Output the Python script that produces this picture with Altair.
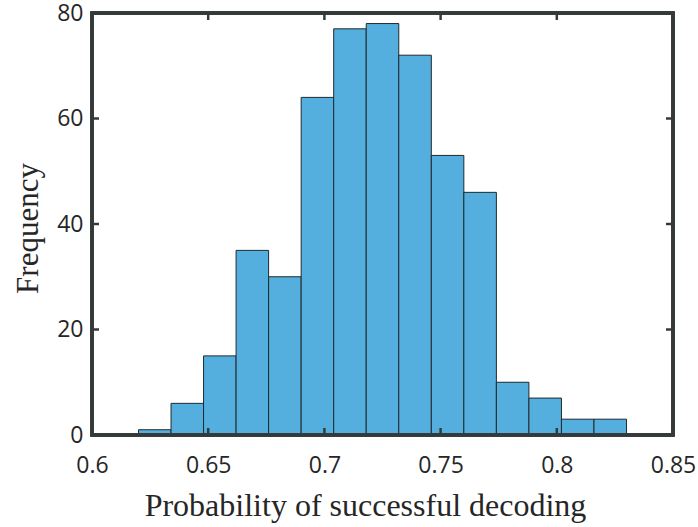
import altair as alt
import pandas as pd

# Histogram data
bin_lo = [0.620, 0.634, 0.648, 0.662, 0.676, 0.690, 0.704, 0.718, 0.732, 0.746, 0.760, 0.774, 0.788, 0.802, 0.816]
bin_hi = [0.634, 0.648, 0.662, 0.676, 0.690, 0.704, 0.718, 0.732, 0.746, 0.760, 0.774, 0.788, 0.802, 0.816, 0.830]
counts = [1, 6, 15, 35, 30, 64, 77, 78, 72, 53, 46, 10, 7, 3, 3]

x_ticks = [0.6, 0.65, 0.7, 0.75, 0.8, 0.85]
y_ticks = [0, 20, 40, 60, 80]

W, H = 581, 422
FRAME = "#343a3a"
TEXT = "#262626"
FILL = "#55AFDE"

bars_df = pd.DataFrame({"lo": bin_lo, "hi": bin_hi, "count": counts})
xt_df = pd.DataFrame({"x": x_ticks})
yt_df = pd.DataFrame({"y": y_ticks})

x_scale = alt.Scale(domain=[0.6, 0.85], nice=False, zero=False)
y_scale = alt.Scale(domain=[0, 80], nice=False)

bars = alt.Chart(bars_df).mark_rect(
    fill=FILL, stroke="#1f2a2e", strokeWidth=1
).encode(
    x=alt.X("lo:Q", scale=x_scale, axis=alt.Axis(
        values=x_ticks, format="~g", title="Probability of successful decoding",
        domain=False, ticks=False, grid=False, labelFlush=False, labelOverlap=False,
        labelFont="Open Sans", labelFontSize=23, labelColor=TEXT,
        labelBaseline="alphabetic", labelPadding=37,
        titleFont="Liberation Serif", titleFontSize=32, titleFontWeight="normal",
        titleColor=TEXT, titleBaseline="alphabetic", titleX=273, titleY=80,
        titleAlign="center")),
    x2="hi:Q",
    y=alt.Y("count:Q", scale=y_scale, axis=alt.Axis(
        values=y_ticks, title="Frequency",
        domain=False, ticks=False, grid=False, labelFlush=False, labelOverlap=False,
        labelFont="Open Sans", labelFontSize=23, labelColor=TEXT,
        labelPadding=9,
        titleFont="Liberation Serif", titleFontSize=31, titleFontWeight="normal",
        titleColor=TEXT, titleBaseline="alphabetic", titleX=-55, titleY=215,
        titleAlign="center", titleAngle=270)),
    y2=alt.datum(0),
)

tick_len = 7
bottom_ticks = alt.Chart(xt_df).mark_rule(color=FRAME, strokeWidth=2.5).encode(
    x=alt.X("x:Q", scale=x_scale), y=alt.value(H), y2=alt.value(H - tick_len))
top_ticks = alt.Chart(xt_df).mark_rule(color=FRAME, strokeWidth=2.5).encode(
    x=alt.X("x:Q", scale=x_scale), y=alt.value(0), y2=alt.value(tick_len))
left_ticks = alt.Chart(yt_df).mark_rule(color=FRAME, strokeWidth=2.5).encode(
    y=alt.Y("y:Q", scale=y_scale), x=alt.value(0), x2=alt.value(tick_len))
right_ticks = alt.Chart(yt_df).mark_rule(color=FRAME, strokeWidth=2.5).encode(
    y=alt.Y("y:Q", scale=y_scale), x=alt.value(W - tick_len), x2=alt.value(W))

frame = alt.Chart(xt_df).mark_rect(filled=False, stroke=FRAME, strokeWidth=3).encode(
    x=alt.value(0), x2=alt.value(W), y=alt.value(0), y2=alt.value(H))

chart = alt.layer(bars, bottom_ticks, top_ticks, left_ticks, right_ticks, frame).properties(
    width=W, height=H,
    autosize=alt.AutoSizeParams(type="none"),
    padding={"left": 92, "top": 13, "right": 25, "bottom": 92},
).configure_view(stroke=None).configure(background="white")

chart.save("out.html", embed_options={"renderer": "svg", "actions": False})
